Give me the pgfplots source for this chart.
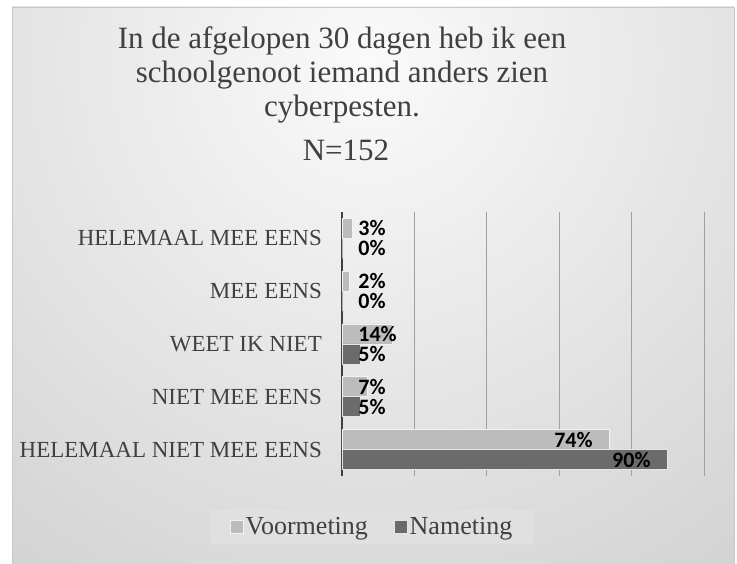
\documentclass[border=0pt]{standalone}
\usepackage{fontspec}
\setmainfont{Liberation Serif}
\newfontfamily\carlito{Carlito}
\usepackage{pgfplots}
\pgfplotsset{compat=1.18}

\definecolor{txt}{HTML}{404040}
\definecolor{bgin}{HTML}{FAFAFA}
\definecolor{bgout}{HTML}{A8A8A8}
\definecolor{framec}{HTML}{C8C8C8}
\definecolor{gridc}{HTML}{A0A0A0}
\definecolor{axisc}{HTML}{404040}
\definecolor{voor}{HTML}{BCBCBC}
\definecolor{na}{HTML}{6B6B6B}
\definecolor{legbg}{HTML}{E0E0E0}

\begin{document}
\begin{tikzpicture}[x=1pt,y=1pt]
\useasboundingbox (0,0) rectangle (737,563);
\fill[white] (0,0) rectangle (737,563);
\begin{scope}
  \clip (12,0) rectangle (734,556);
  \shade[inner color=bgin, outer color=bgout] (370,500) circle (1300);
\end{scope}
\draw[framec] (12,-1) -- (12,556) -- (734,556) -- (734,-1);

% title
\begin{scope}[every node/.style={anchor=base, text=txt, font=\fontsize{31}{36}\selectfont}]
  \node at (342,514) {In de afgelopen 30 dagen heb ik een};
  \node at (342,480) {schoolgenoot iemand anders zien};
  \node at (342,446) {cyberpesten.};
  \node at (346,402) {N=152};
\end{scope}

\begin{axis}[
  at={(342pt,87pt)}, anchor=south west,
  width=362pt, height=264pt, scale only axis,
  xbar, bar width=20pt,
  xmin=0, xmax=100, ymin=-0.5, ymax=4.5,
  xtick={0,20,...,100}, xticklabels={},
  ytick={0,...,4},
  yticklabels={HELEMAAL NIET MEE EENS, NIET MEE EENS, WEET IK NIET, MEE EENS, HELEMAAL MEE EENS},
  yticklabel style={font=\fontsize{23}{26}\selectfont, text=txt, inner sep=0pt, xshift=-20pt},
  major tick length=0pt,
  axis line style={draw=none},
  xmajorgrids, grid style={color=gridc, line width=1pt},
  extra x ticks={0}, extra x tick labels={},
  extra x tick style={grid style={color=axisc, line width=2.5pt}},
  point meta=x,
  visualization depends on=rawx \as \rawx,
  nodes near coords={\pgfmathprintnumber[assume math mode=true]{\pgfplotspointmeta}\%},
  nodes near coords style={font=\carlito\bfseries\fontsize{22}{24}\selectfont, text=black,
    anchor=west, inner sep=0pt,
    xshift={ifthenelse(\rawx>50,-56,16-3.62*\rawx)*1pt}},
  legend style={at={(axis description cs:0.083,-0.193)}, anchor=center,
    fill=legbg, draw=none, font=\fontsize{26}{28}\selectfont, text=txt,
    inner xsep=20pt, inner ysep=6pt, nodes={inner sep=2pt},
    /tikz/every even column/.append style={column sep=24pt}},
  legend columns=2,
  legend image code/.code={\draw[#1] (0pt,-6.5pt) rectangle (13pt,6.5pt);},
]
\addplot[fill=voor, draw=white!90!gray, line width=0.8pt, bar shift=10pt]
  coordinates {(74,0) (7,1) (14,2) (2,3) (3,4)};
\addlegendentry{Voormeting}
\addplot[fill=na, draw=white!80!gray, line width=0.8pt, bar shift=-10pt]
  coordinates {(90,0) (5,1) (5,2) (0,3) (0,4)};
\addlegendentry{Nameting}
\end{axis}
\end{tikzpicture}
\end{document}
